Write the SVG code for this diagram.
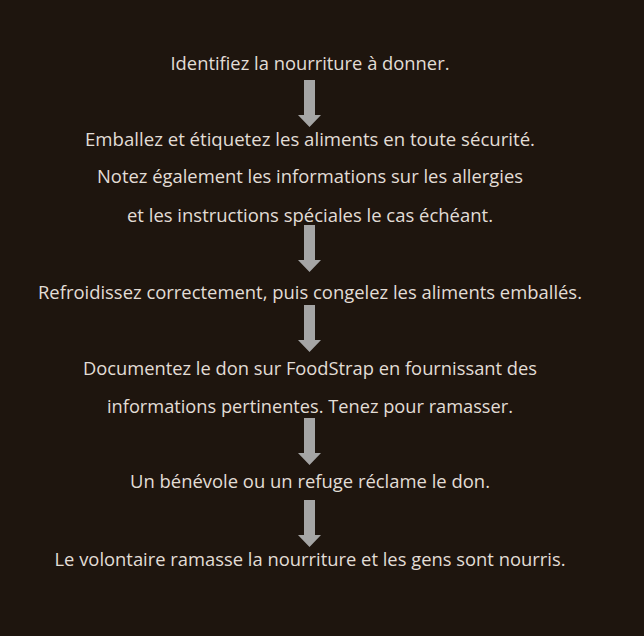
<svg xmlns="http://www.w3.org/2000/svg" width="644" height="636" viewBox="0 0 644 636">
<defs>
<style>
.t{font-family:"Open Sans","Liberation Sans",sans-serif;font-size:17.5px;fill:#e2ddd6;text-anchor:middle}
.a{fill:#a5a5a5}
</style>
<path id="arr" d="M-5.5,0 H5.5 V35 H11.5 L0,47 L-11.5,35 H-5.5 Z"/>
</defs>
<rect width="644" height="636" fill="#1e150e"/>
<g id="step1"><text class="t" x="310" y="70" textLength="279" lengthAdjust="spacingAndGlyphs">Identifiez la nourriture à donner.</text></g>
<g id="step2">
<text class="t" x="310" y="146" textLength="450" lengthAdjust="spacingAndGlyphs">Emballez et étiquetez les aliments en toute sécurité.</text>
<text class="t" x="310" y="183" textLength="426" lengthAdjust="spacingAndGlyphs">Notez également les informations sur les allergies</text>
<text class="t" x="310" y="222" textLength="366" lengthAdjust="spacingAndGlyphs">et les instructions spéciales le cas échéant.</text>
</g>
<g id="step3"><text class="t" x="310" y="299" textLength="544" lengthAdjust="spacingAndGlyphs">Refroidissez correctement, puis congelez les aliments emballés.</text></g>
<g id="step4">
<text class="t" x="310" y="375" textLength="454" lengthAdjust="spacingAndGlyphs">Documentez le don sur FoodStrap en fournissant des</text>
<text class="t" x="310" y="413" textLength="406" lengthAdjust="spacingAndGlyphs">informations pertinentes. Tenez pour ramasser.</text>
</g>
<g id="step5"><text class="t" x="310" y="488" textLength="360" lengthAdjust="spacingAndGlyphs">Un bénévole ou un refuge réclame le don.</text></g>
<g id="step6"><text class="t" x="310" y="566" textLength="511" lengthAdjust="spacingAndGlyphs">Le volontaire ramasse la nourriture et les gens sont nourris.</text></g>
<g id="connectors" class="a">
<use href="#arr" x="309.5" y="80"/>
<use href="#arr" x="309.5" y="225"/>
<use href="#arr" x="309.5" y="305"/>
<use href="#arr" x="309.5" y="418"/>
<use href="#arr" x="309.5" y="500"/>
</g>
</svg>
